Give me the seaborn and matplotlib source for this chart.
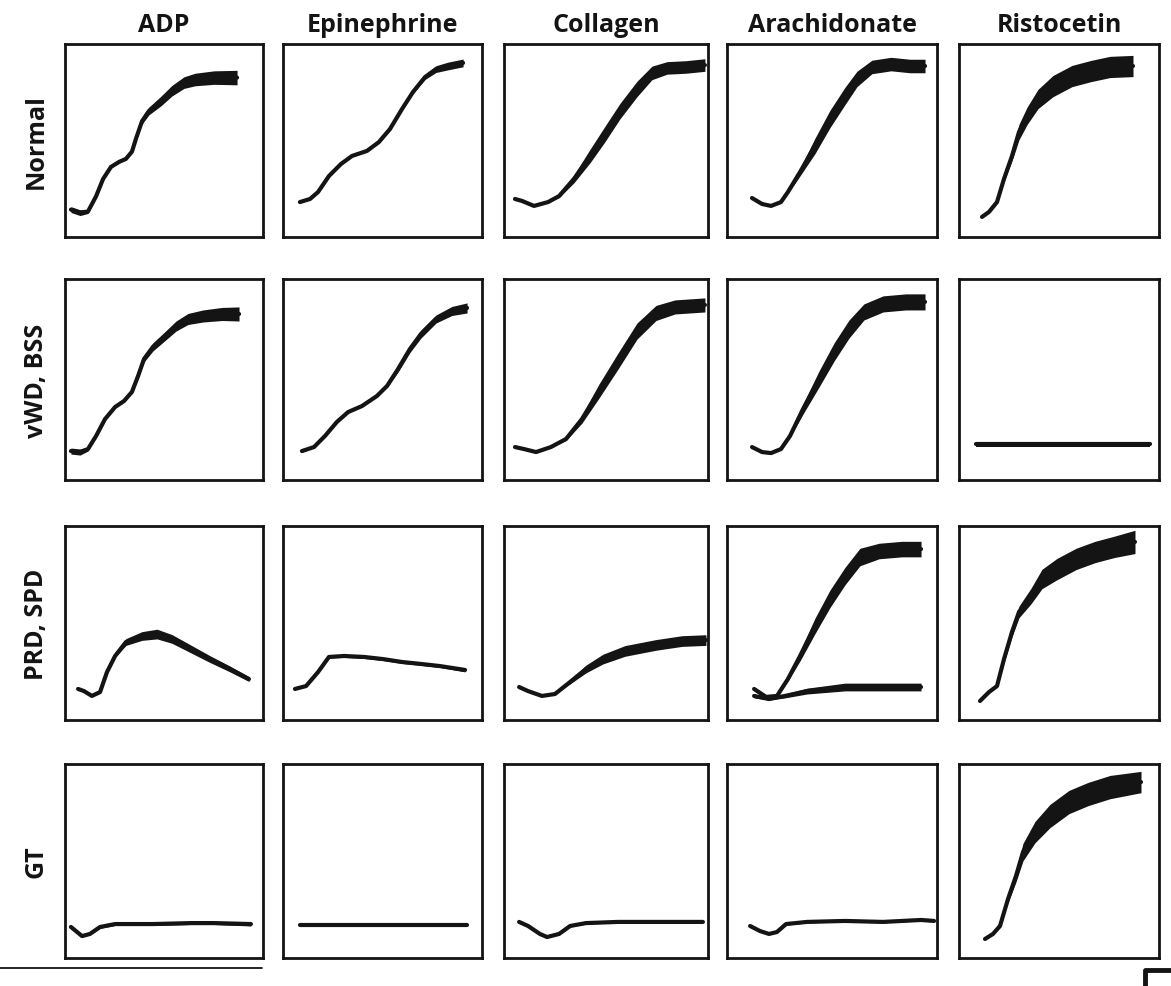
import numpy as np
import pandas as pd
import seaborn as sns
import matplotlib.pyplot as plt
from matplotlib.lines import Line2D

# ---------------- data (x: time, 0-100 ; y: aggregation, 0-100 ; w: trace band thickness) -------------
AGONISTS = ["ADP", "Epinephrine", "Collagen", "Arachidonate", "Ristocetin"]
CONDITIONS = ["Normal", "vWD, BSS", "PRD, SPD", "GT"]

# Normal
N_ADP_X = [3.0, 7.6, 11.6, 15.7, 19.2, 23.2, 27.3, 30.8, 33.8, 35.9, 38.9, 42.4, 48.5, 54.0, 60.1, 65.7, 75.3, 86.9]
N_ADP_Y = [14.2, 12.6, 13.2, 21.1, 30.0, 36.3, 38.9, 40.5, 44.2, 51.1, 60.0, 65.3, 70.5, 75.8, 80.0, 81.6, 82.6, 82.6]
N_ADP_W = [3, 3, 2, 0, 0, 0, 0, 0, 1, 1.5, 3, 4, 5, 5.5, 6, 6.5, 7, 7.5]

N_EPI_X = [8.5, 13.6, 17.6, 23.1, 29.1, 34.7, 42.2, 48.2, 53.8, 59.8, 65.3, 71.4, 76.9, 82.9, 90.5]
N_EPI_Y = [18.1, 19.7, 23.3, 31.6, 37.8, 42.0, 44.6, 49.2, 56.0, 66.3, 75.1, 82.9, 87.0, 88.6, 90.2]
N_EPI_W = [0, 0, 0, 0, 0, 0, 0, 0, 0, 0.5, 1.5, 2.5, 3.5, 4, 4]

N_COL_X = [5.4, 8.8, 14.7, 21.6, 27.0, 34.3, 42.2, 49.5, 56.9, 65.2, 72.5, 79.9, 89.2, 98.5]
N_COL_Y = [19.7, 18.7, 16.1, 18.1, 21.2, 30.1, 42.0, 53.4, 65.3, 76.7, 85.0, 87.6, 88.1, 89.1]
N_COL_W = [0, 0, 0, 0, 1.5, 4, 7, 8, 8, 8, 7, 6.5, 6.5, 6.5]

N_ARA_X = [11.9, 16.7, 21.0, 25.7, 29.0, 34.8, 41.9, 49.0, 56.2, 61.9, 69.0, 78.1, 87.1, 94.3]
N_ARA_Y = [20.2, 17.1, 16.1, 18.1, 23.3, 33.7, 47.2, 61.1, 73.1, 81.9, 88.1, 89.6, 88.6, 88.6]
N_ARA_W = [0, 0, 0, 0, 1.5, 4, 8, 9, 9, 8, 7, 7, 7, 7]

N_RIS_X = [11.5, 15, 19, 22.5, 26.5, 30, 34, 39.5, 47, 56.5, 66, 75.5, 87]
N_RIS_Y = [10.4, 13.0, 18.1, 30.1, 42.0, 54.4, 62.7, 71.5, 78.2, 83.4, 86.0, 88.1, 88.6]
N_RIS_W = [0, 0, 0, 3, 5, 8, 9, 10, 11, 11, 11, 11, 11]

# vWD, BSS
V_ADP_X = [3.0, 7.6, 11.6, 15.7, 20.2, 25.3, 29.8, 33.8, 36.9, 39.9, 44.4, 50.5, 56.1, 62.1, 69.7, 79.3, 87.9]
V_ADP_Y = [14.4, 13.9, 15.4, 21.9, 30.3, 36.3, 39.3, 43.8, 51.7, 60.2, 66.2, 71.6, 76.6, 80.1, 81.6, 82.6, 82.6]
V_ADP_W = [3, 3, 2, 0, 0, 0, 0, 0, 1.5, 3, 4, 4.5, 5, 5.5, 6, 6.5, 7]

V_EPI_X = [9.5, 15.6, 21.1, 27.1, 32.7, 39.7, 47.2, 52.3, 57.8, 63.8, 69.3, 76.9, 84.9, 92.5]
V_EPI_Y = [14.4, 16.4, 21.9, 28.9, 33.8, 36.8, 41.8, 46.8, 55.2, 65.2, 72.6, 80.1, 84.1, 85.6]
V_EPI_W = [1.5, 0, 0, 0, 0, 0, 0, 1.5, 3, 3.5, 4, 4, 4.5, 5]

V_COL_X = [5.4, 9.8, 15.7, 23.0, 30.4, 38.2, 46.6, 55.9, 65.2, 74.5, 83.8, 98.5]
V_COL_Y = [16.4, 15.4, 13.9, 16.4, 20.4, 30.3, 44.3, 59.2, 74.1, 83.1, 86.1, 87.1]
V_COL_W = [0, 0, 0, 0, 1.5, 4, 7, 8, 8, 7.5, 7, 7]

V_ARA_X = [11.9, 16.7, 21.0, 25.7, 30.0, 36.2, 43.8, 51.0, 58.1, 65.2, 74.3, 85.2, 94.3]
V_ARA_Y = [16.4, 13.9, 13.4, 15.4, 21.9, 35.3, 50.2, 63.7, 75.1, 83.6, 87.6, 88.6, 88.6]
V_ARA_W = [0, 0, 0, 0, 1.5, 5, 8, 9, 9, 8, 8, 8, 8]

V_RIS_X = [8.5, 95.5]
V_RIS_Y = [17.9, 17.9]
V_RIS_W = [2.5, 2.5]

# PRD, SPD
P_ADP_X = [6.6, 9.6, 13.6, 17.7, 21.2, 25.3, 30.8, 38.9, 46.5, 54.0, 63.6, 73.2, 83.3, 92.9]
P_ADP_Y = [16.0, 14.9, 12.4, 14.4, 24.7, 33.0, 40.2, 43.3, 44.3, 41.8, 36.6, 31.4, 26.3, 21.1]
P_ADP_W = [1, 0, 0, 0, 0, 1.5, 3.5, 4.5, 5, 4.5, 4, 3.5, 3, 2.5]

P_EPI_X = [6.0, 11.6, 17.6, 23.1, 30.7, 40.7, 50.3, 59.8, 69.3, 78.9, 91.5]
P_EPI_Y = [16.0, 17.5, 24.7, 32.5, 33.0, 32.5, 31.4, 29.9, 28.9, 27.8, 25.8]
P_EPI_W = [1, 0, 0, 1, 1.5, 1.5, 1.5, 1.5, 1.5, 1.5, 2]

P_COL_X = [7.4, 11.8, 18.6, 25.0, 32.4, 40.2, 48.5, 59.3, 74.5, 87.3, 99.0]
P_COL_Y = [17.0, 14.9, 12.4, 13.4, 19.6, 26.3, 31.4, 35.6, 38.7, 40.7, 41.2]
P_COL_W = [0, 0, 0, 0, 2, 4, 5, 5.5, 5.5, 5.5, 5.5]

P_ARA_X = [12.9, 18.6, 23.8, 29.0, 34.8, 41.9, 49.0, 56.2, 63.3, 72.4, 83.3, 92.4]
P_ARA_Y = [16.0, 11.9, 12.4, 21.1, 33.0, 48.5, 62.4, 74.2, 84.0, 87.1, 88.1, 88.1]
P_ARA_W = [2, 2, 1, 2, 5, 8, 9, 9, 9, 8, 8, 8]
P_ARA2_X = [12.9, 20.0, 27.6, 38.1, 56.2, 74.3, 92.4]
P_ARA2_Y = [12.4, 10.8, 12.4, 14.9, 17.0, 17.0, 17.0]
P_ARA2_W = [2, 1, 2, 3, 4, 4, 4]

P_RIS_X = [10.5, 15, 19, 22.5, 26.5, 30, 36, 41.5, 49, 58.5, 68, 77.5, 88]
P_RIS_Y = [9.8, 14.4, 17.5, 31.4, 45.4, 55.7, 63.9, 72.7, 77.8, 83.0, 86.6, 89.2, 91.8]
P_RIS_W = [0, 0, 1, 4, 5, 6, 8, 10, 11, 11, 11, 11, 12]

# GT
G_ADP_X = [3.0, 6.1, 8.6, 12.6, 17.7, 25.3, 44.4, 63.6, 75.3, 93.9]
G_ADP_Y = [16.0, 13.4, 11.3, 12.4, 16.0, 17.5, 17.5, 18.0, 18.0, 17.5]
G_ADP_W = [1, 1, 1, 1, 1.5, 1.5, 1.5, 1.5, 1.5, 2]

G_EPI_X = [8.5, 50.0, 92.5]
G_EPI_Y = [17.0, 17.0, 17.0]
G_EPI_W = [1, 1, 1]

G_COL_X = [7.4, 11.8, 17.6, 21.1, 27.0, 32.4, 40.2, 55.9, 74.5, 97.5]
G_COL_Y = [18.6, 16.5, 12.4, 10.8, 12.4, 16.5, 18.0, 18.6, 18.6, 18.6]
G_COL_W = [0.5, 0.5, 0.5, 0.5, 0.5, 1, 1, 1, 1, 1]

G_ARA_X = [11.0, 15.7, 20.0, 23.8, 28.1, 38.1, 56.2, 74.3, 92.4, 98.6]
G_ARA_Y = [16.5, 13.9, 12.4, 13.4, 17.5, 18.6, 19.1, 18.6, 19.6, 19.1]
G_ARA_W = [0.5, 0.5, 0.5, 0.5, 1, 1, 1, 1, 1, 1]

G_RIS_X = [13, 17, 20.5, 24.5, 28.5, 32, 38, 45.5, 55, 64.5, 75.5, 91]
G_RIS_Y = [9.8, 12.4, 16.5, 30.4, 42.3, 54.6, 64.9, 73.2, 80.4, 84.5, 88.1, 90.7]
G_RIS_W = [0, 0, 1, 4, 6, 9, 11, 12, 12, 12, 12, 11]

PANELS = {
    (0, 0): [(N_ADP_X, N_ADP_Y, N_ADP_W)],
    (0, 1): [(N_EPI_X, N_EPI_Y, N_EPI_W)],
    (0, 2): [(N_COL_X, N_COL_Y, N_COL_W)],
    (0, 3): [(N_ARA_X, N_ARA_Y, N_ARA_W)],
    (0, 4): [(N_RIS_X, N_RIS_Y, N_RIS_W)],
    (1, 0): [(V_ADP_X, V_ADP_Y, V_ADP_W)],
    (1, 1): [(V_EPI_X, V_EPI_Y, V_EPI_W)],
    (1, 2): [(V_COL_X, V_COL_Y, V_COL_W)],
    (1, 3): [(V_ARA_X, V_ARA_Y, V_ARA_W)],
    (1, 4): [(V_RIS_X, V_RIS_Y, V_RIS_W)],
    (2, 0): [(P_ADP_X, P_ADP_Y, P_ADP_W)],
    (2, 1): [(P_EPI_X, P_EPI_Y, P_EPI_W)],
    (2, 2): [(P_COL_X, P_COL_Y, P_COL_W)],
    (2, 3): [(P_ARA_X, P_ARA_Y, P_ARA_W), (P_ARA2_X, P_ARA2_Y, P_ARA2_W)],
    (2, 4): [(P_RIS_X, P_RIS_Y, P_RIS_W)],
    (3, 0): [(G_ADP_X, G_ADP_Y, G_ADP_W)],
    (3, 1): [(G_EPI_X, G_EPI_Y, G_EPI_W)],
    (3, 2): [(G_COL_X, G_COL_Y, G_COL_W)],
    (3, 3): [(G_ARA_X, G_ARA_Y, G_ARA_W)],
    (3, 4): [(G_RIS_X, G_RIS_Y, G_RIS_W)],
}

# ---------------- layout ----------------
W_PX, H_PX = 1171, 987
COL_EDGES = [(65, 263), (283, 482), (504, 708), (727, 937), (959, 1159)]
ROW_EDGES = [(45, 238), (280, 481), (527, 721), (765, 959)]
ROW_LABEL_X = 36
INK = "#141414"

sns.set_theme(style="white")
plt.rcParams['font.family'] = ['Open Sans', 'DejaVu Sans']

fig = plt.figure(figsize=(W_PX / 100, H_PX / 100), dpi=100)
fig.patch.set_facecolor("white")

for (r, c), traces in PANELS.items():
    l, rr = COL_EDGES[c]
    t, b = ROW_EDGES[r]
    ax = fig.add_axes([l / W_PX, 1 - b / H_PX, (rr - l) / W_PX, (b - t) / H_PX])
    for X, Y, Wd in traces:
        df = pd.DataFrame({"time": X, "aggregation": Y})
        sns.lineplot(data=df, x="time", y="aggregation", ax=ax, color=INK,
                     lw=3.0, sort=False, estimator=None,
                     solid_capstyle="round", solid_joinstyle="round")
        xa, ya, wa = np.asarray(X), np.asarray(Y), np.asarray(Wd, dtype=float)
        ax.fill_between(xa, ya - wa / 2, ya + wa / 2, color=INK, lw=0)
    ax.set_xlim(0, 100)
    ax.set_ylim(0, 100)
    ax.set_xticks([])
    ax.set_yticks([])
    ax.set_xlabel("")
    ax.set_ylabel("")
    for sp in ax.spines.values():
        sp.set_visible(True)
        sp.set_linewidth(2.0)
        sp.set_color(INK)
    if r == 0:
        ax.set_title(AGONISTS[c], fontsize=18, fontweight="bold", pad=9, color=INK)
    if c == 0:
        fig.text(ROW_LABEL_X / W_PX, 1 - (t + b) / 2 / H_PX, CONDITIONS[r], rotation=90,
                 ha="center", va="center", fontsize=18, fontweight="bold", color=INK)

# scan rule marks at the page bottom
fig.add_artist(Line2D([0 / W_PX, 262 / W_PX], [1 - 969 / H_PX] * 2, color=INK, lw=1.3,
                      transform=fig.transFigure))
fig.add_artist(Line2D([1145 / W_PX, 1145 / W_PX, 1171 / W_PX],
                      [0, 1 - 971 / H_PX, 1 - 971 / H_PX], color=INK, lw=3.5,
                      transform=fig.transFigure))

fig.savefig("out.png", dpi=100, facecolor="white")
